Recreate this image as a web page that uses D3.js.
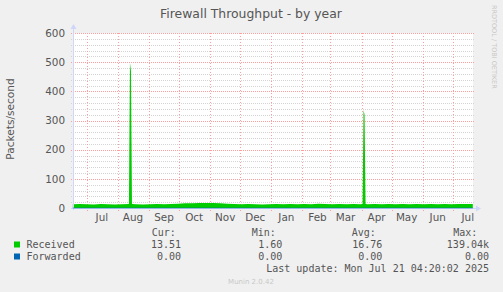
<!DOCTYPE html>
<html>
<head>
<meta charset="utf-8">
<script src="https://cdn.jsdelivr.net/npm/d3@7"></script>
<style>
  html, body { margin: 0; padding: 0; background: #f0f0f0; }
  svg { display: block; }
  .mono { font-family: "DejaVu Sans Mono", monospace; white-space: pre; }
</style>
</head>
<body>
<div id="chart"></div>
<script>
// received packets/second (roughly weekly, plus the two spikes)
var recvDates = ["2024-06-17","2024-06-24","2024-07-01","2024-07-08","2024-07-15","2024-07-22","2024-07-29",
  "2024-08-05","2024-08-12","2024-08-13","2024-08-14","2024-08-15","2024-08-19","2024-08-26","2024-09-02","2024-09-09",
  "2024-09-16","2024-09-23","2024-09-30","2024-10-07","2024-10-14","2024-10-21","2024-10-28","2024-11-04",
  "2024-11-11","2024-11-18","2024-11-25","2024-12-02","2024-12-09","2024-12-16","2024-12-23","2024-12-30",
  "2025-01-06","2025-01-13","2025-01-20","2025-01-27","2025-02-03","2025-02-10","2025-02-17","2025-02-24",
  "2025-03-03","2025-03-10","2025-03-17","2025-03-24","2025-03-31","2025-04-02","2025-04-03","2025-04-04","2025-04-05",
  "2025-04-07","2025-04-14","2025-04-21","2025-04-28","2025-05-05","2025-05-12","2025-05-19","2025-05-26",
  "2025-06-02","2025-06-09","2025-06-16","2025-06-23","2025-06-30","2025-07-07","2025-07-14","2025-07-21"];
var recvValues = [13,14,13,12,14,13,12,
  13,14,497,470,14,13,12,13,14,
  13,14,15,16,16,17,17,17,
  16,15,14,13,14,13,12,13,
  14,13,14,13,14,13,15,14,
  13,14,13,14,13,14,336,320,14,
  13,14,13,14,13,14,13,14,
  13,14,13,14,13,14,14,13.5];
var fwdDates = ["2024-06-17","2025-07-21"];
var fwdValues = [0, 0];

var yTicks = [0, 100, 200, 300, 400, 500, 600];
var yMinorStep = 20;

var legendNames = ["Received", "Forwarded"];
var legendColors = ["#00cc00", "#0066b3"];
var legendCur = ["13.51", "0.00"];
var legendMin = ["1.60", "0.00"];
var legendAvg = ["16.76", "0.00"];
var legendMax = ["139.04k", "0.00 "];

var W = 503, H = 292;
var plot = { left: 73, right: 473, top: 33, bottom: 208 };
var parse = d3.timeParse("%Y-%m-%d");

var svg = d3.select("#chart").append("svg")
  .attr("width", W).attr("height", H);
svg.append("rect").attr("width", W).attr("height", H).attr("fill", "#f0f0f0");

var x = d3.scaleTime()
  .domain([new Date(2024, 5, 17, 4, 20), new Date(2025, 6, 21, 4, 20)])
  .range([plot.left, plot.right]);
var y = d3.scaleLinear().domain([0, 600]).range([plot.bottom, plot.top]);

svg.append("rect")
  .attr("x", plot.left).attr("y", plot.top)
  .attr("width", plot.right - plot.left).attr("height", plot.bottom - plot.top)
  .attr("fill", "#ffffff");

var minorColor = "#d4d4d4", majorColor = "#ff9c9c";

// minor horizontal grid
var minor = d3.range(0, 601, yMinorStep).filter(function (v) { return yTicks.indexOf(v) < 0; });
svg.append("g").selectAll("line").data(minor).enter().append("line")
  .attr("x1", plot.left - 2).attr("x2", plot.right + 1)
  .attr("y1", function (d) { return Math.round(y(d)) + 0.5; })
  .attr("y2", function (d) { return Math.round(y(d)) + 0.5; })
  .attr("stroke", minorColor).attr("stroke-dasharray", "1,1");

// major horizontal grid
svg.append("g").selectAll("line").data(yTicks).enter().append("line")
  .attr("x1", plot.left - 2).attr("x2", plot.right + 1)
  .attr("y1", function (d) { return Math.round(y(d)) + 0.5; })
  .attr("y2", function (d) { return Math.round(y(d)) + 0.5; })
  .attr("stroke", majorColor).attr("stroke-dasharray", "1,1");

// month grid lines
var months = d3.timeMonth.range(x.domain()[0], x.domain()[1]);
svg.append("g").selectAll("line").data(months).enter().append("line")
  .attr("x1", function (d) { return Math.round(x(d)) + 0.5; })
  .attr("x2", function (d) { return Math.round(x(d)) + 0.5; })
  .attr("y1", plot.top).attr("y2", plot.bottom + 3)
  .attr("stroke", majorColor).attr("stroke-dasharray", "1,2");

// received area
var recv = recvDates.map(function (d, i) { return { date: parse(d), value: recvValues[i] }; });
var area = d3.area()
  .x(function (d) { return x(d.date); })
  .y0(y(0))
  .y1(function (d) { return y(d.value); });
svg.append("path").datum(recv).attr("d", area).attr("fill", "#00cc00");

// axes lines with arrows
var axisColor = "#cfd6f8";
svg.append("line").attr("x1", plot.left + 0.5).attr("x2", plot.left + 0.5)
  .attr("y1", plot.bottom + 2).attr("y2", plot.top - 5).attr("stroke", axisColor);
svg.append("path").attr("d", "M70.5,29 L73.5,24 L76.5,29 Z").attr("fill", axisColor);
svg.append("line").attr("x1", plot.left - 2).attr("x2", plot.right + 5)
  .attr("y1", plot.bottom + 0.5).attr("y2", plot.bottom + 0.5).attr("stroke", axisColor);
svg.append("path").attr("d", "M476,205.5 L481,208.5 L476,211.5 Z").attr("fill", axisColor);

// forwarded line at zero
var fwd = fwdDates.map(function (d, i) { return { date: parse(d), value: fwdValues[i] }; });
svg.append("path").datum(fwd)
  .attr("d", d3.line().x(function (d) { return x(d.date); }).y(function (d) { return y(d.value); }))
  .attr("fill", "none").attr("stroke", "#0066b3").attr("stroke-opacity", 0.55);

// y tick labels
var yAxis = svg.append("g")
  .attr("transform", "translate(" + (plot.left - 8) + ",0)")
  .call(d3.axisLeft(y).tickValues(yTicks).tickSize(0).tickPadding(0));
yAxis.select(".domain").remove();
yAxis.selectAll("text")
  .attr("font-family", "DejaVu Sans").attr("font-size", "10.4px").attr("fill", "#555");

// month labels in the middle of each month
var labelMonths = d3.timeMonth.range(d3.timeMonth.floor(x.domain()[0]), x.domain()[1])
  .map(function (m) { return d3.timeDay.offset(m, 15); })
  .filter(function (d) { return d > x.domain()[0] && d < x.domain()[1]; });
svg.append("g").selectAll("text").data(labelMonths).enter().append("text")
  .attr("x", function (d) { return x(d); }).attr("y", 221)
  .attr("text-anchor", "middle")
  .attr("font-family", "DejaVu Sans").attr("font-size", "10.4px").attr("fill", "#555")
  .text(d3.timeFormat("%b"));

// title and y label
svg.append("text").attr("x", 251).attr("y", 18).attr("text-anchor", "middle")
  .attr("font-family", "DejaVu Sans").attr("font-size", "12.4px").attr("fill", "#555")
  .text("Firewall Throughput - by year");
svg.append("text").attr("transform", "translate(14,119) rotate(-90)").attr("text-anchor", "middle")
  .attr("font-family", "DejaVu Sans").attr("font-size", "10.6px").attr("fill", "#555")
  .text("Packets/second");
svg.append("text").attr("transform", "translate(492,5) rotate(90)").attr("text-anchor", "start")
  .attr("font-family", "DejaVu Sans").attr("font-size", "6.5px").attr("fill", "#c8c8c8")
  .text("RRDTOOL / TOBI OETIKER");

// legend
var mono = svg.append("g").attr("class", "mono")
  .attr("font-size", "10px").attr("fill", "#555");
[["Cur:", 151.7], ["Min:", 251.7], ["Avg:", 351.7], ["Max:", 453.3]].forEach(function (h) {
  mono.append("text").attr("x", h[1]).attr("y", 236).text(h[0]);
});
legendNames.forEach(function (name, i) {
  var by = 248 + i * 12;
  svg.append("rect").attr("x", 14).attr("y", by - 6.5).attr("width", 6).attr("height", 6)
    .attr("fill", legendColors[i]);
  mono.append("text").attr("x", 26.5).attr("y", by).text(name);
  mono.append("text").attr("x", 181).attr("y", by).attr("text-anchor", "end").text(legendCur[i]);
  mono.append("text").attr("x", 282.3).attr("y", by).attr("text-anchor", "end").text(legendMin[i]);
  mono.append("text").attr("x", 382.3).attr("y", by).attr("text-anchor", "end").text(legendAvg[i]);
  mono.append("text").attr("x", 489).attr("y", by).attr("text-anchor", "end").text(legendMax[i]);
});
mono.append("text").attr("x", 489).attr("y", 272).attr("text-anchor", "end")
  .text("Last update: Mon Jul 21 04:20:02 2025");
svg.append("text").attr("x", 251).attr("y", 284).attr("text-anchor", "middle")
  .attr("font-family", "DejaVu Sans").attr("font-size", "7px").attr("fill", "#c8c8c8")
  .text("Munin 2.0.42");
</script>
</body>
</html>
